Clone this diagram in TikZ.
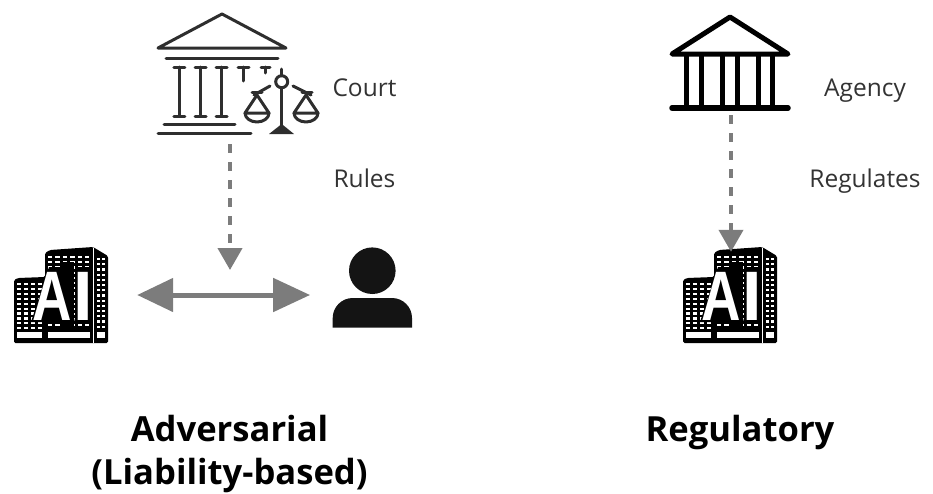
\documentclass[tikz,border=0pt]{standalone}
\usepackage{fontspec}
\setmainfont{Open Sans}
\newfontfamily\aifont{Liberation Sans}
\usetikzlibrary{arrows.meta}
\definecolor{inkdark}{HTML}{2E2E2E}
\definecolor{inkblack}{HTML}{141414}
\definecolor{arrowgrey}{HTML}{7C7C7C}
\definecolor{labelgrey}{HTML}{333333}
\tikzset{
  x=1pt,y=-1pt,
  thinicon/.style={draw=inkdark,line width=3pt,line cap=round,line join=round},
  heavyicon/.style={draw=black,line width=5pt},
  slot/.style={inner sep=0pt,minimum width=94pt,minimum height=96pt},
  lbl/.style={font=\fontsize{24.5}{26}\selectfont,text=labelgrey,inner sep=0pt,anchor=base},
  ttl/.style={font=\fontsize{34.6}{47}\selectfont\bfseries,text=black,inner sep=0pt,anchor=base},
  dasharrow/.style={draw=arrowgrey,line width=4.2pt,dash pattern=on 9pt off 9pt,-{Triangle[length=22pt,width=24pt]}},
  bothways/.style={draw=arrowgrey,line width=5pt,{Triangle[length=36pt,width=33pt]}-{Triangle[length=37pt,width=33pt]}},
  ailetter/.style={inner sep=0pt,text=white,anchor=base,font=\fontsize{70}{70}\selectfont\aifont\bfseries},
  pics/aicorp/.style={code={
    \fill[black,rounded corners=1.5pt] (14,280) -- (18,278) -- (45,277) -- (45,253) -- (50,250) -- (93,247) -- (108,256) -- (108,343) -- (14,343) -- cycle;
    \foreach \r in {0,...,13}{
      \foreach \c in {0,...,5}{
        \fill[white] ({48+\c*7.4},{256+\r*5.2}) rectangle +(4.3,2.2);
      }
      \foreach \c in {0,1}{
        \fill[white] ({96.5+\c*5.2},{258+\r*5.2}) rectangle +(3,2.2);
      }
    }
    \foreach \r in {0,...,9}{
      \foreach \c in {0,...,3}{
        \fill[white] ({17+\c*7},{283+\r*4.9}) rectangle +(4.3,2.2);
      }
    }
    \fill[white] (17,332) rectangle (42,338);
    \fill[white] (48,332) rectangle (90,338);
    \fill[white] (97,332) rectangle (105,338);
    \draw[white,line width=1pt] (93.5,248) -- (93.5,343);
    \fill[black] (63,262) rectangle (74,330);
    \fill[black] (31,322) -- (49,267) -- (61,267) -- (75,322) -- cycle;
    \fill[black] (76,267) rectangle (90,322);
    \node[ailetter,xscale=.78] at (52.5,320) {A};
    \node[ailetter] at (83,320) {I};
  }}
}
\begin{document}
\begin{tikzpicture}
\useasboundingbox (0,0) rectangle (933,493);
% court
\draw[thinicon] (158,48) -- (222,14) -- (286,48) -- cycle;
\draw[thinicon] (166,58) -- (278,58);
\foreach \cx in {179.3,200.7,221.7}{
  \draw[thinicon] ({\cx-5.5},67) -- ({\cx+5.5},67) ({\cx},67) -- ({\cx},116) ({\cx-5.5},116) -- ({\cx+5.5},116);
}
\draw[thinicon] (238,67) -- (249,67) (243,67) -- (243,81);
\draw[thinicon] (261,67) -- (270,67) (265,67) -- (265,73);
\draw[thinicon] (164,124) -- (235,124);
\draw[thinicon] (158,133) -- (251,133);
% scales
\draw[thinicon] (281.7,69) -- (281.7,75.7) (281.7,87.7) -- (281.7,128);
\draw[thinicon] (281.7,81.7) circle (6);
\fill[inkdark] (269,134) -- (281.7,124) -- (294,134) -- cycle;
\draw[thinicon] (270,86) -- (254,95) (293,86) -- (311,95);
\draw[thinicon] (252,92) -- (262,92) (302,92) -- (312,92);
\draw[thinicon] (257,95) -- (245,113) -- (269,113) -- cycle;
\draw[thinicon] (245,113) arc[start angle=180,end angle=0,x radius=12,y radius=9];
\draw[thinicon] (306,95) -- (294,113) -- (318,113) -- cycle;
\draw[thinicon] (294,113) arc[start angle=180,end angle=0,x radius=12,y radius=9];
\node[inner sep=0pt,minimum width=162pt,minimum height=122pt] (court) at (239,74) {};
\coordinate (courtfoot) at (230,144);
\coordinate (courttip) at (230,270);
% agency
\draw[heavyicon,line join=round] (672,54) -- (730,17) -- (788,54) -- cycle;
\foreach \cx in {686.7,701.7,722.7,737,758.3,772.7}{
  \draw[draw=black,line width=5pt] (\cx,54) -- (\cx,107);
}
\draw[draw=black,line width=5.5pt,line cap=round] (672,108) -- (788,108);
\node[inner sep=0pt,minimum width=120pt,minimum height=98pt] (agency) at (731,63) {};
% buildings
\pic at (0,0) {aicorp};
\pic at (669,0) {aicorp};
\node[slot] (aileft) at (61,295) {};
\node[slot] (airight) at (731,295) {};
% person
\fill[inkblack] (372.3,270.7) circle (23.3);
\fill[inkblack] (332.7,327.7) -- (332.7,318) arc[start angle=180,end angle=270,radius=20] -- (392,298) arc[start angle=270,end angle=360,radius=20] -- (412,327.7) -- cycle;
\node[inner sep=0pt,minimum width=80pt,minimum height=96pt] (person) at (372.3,295) {};
% connectors
\draw[dasharrow] (courtfoot) -- (courttip);
\draw[dasharrow,shorten <=3pt,shorten >=-5pt] (agency.south) -- (airight.north);
\draw[bothways,shorten <=29pt,shorten >=22pt] (aileft.east) -- (person.west);
% labels
\node[lbl] (lcourt) at (364.5,96) {Court};
\node[lbl] (lrules) at (364.5,187) {Rules};
\node[lbl] (lagency) at (865,96) {Agency};
\node[lbl] (lreg) at (865,187) {Regulates};
\node[ttl] (tadv) at (229.5,441) {Adversarial};
\node[ttl] (tadvb) at (229.5,484.5) {(Liability-based)};
\node[ttl] (treg) at (740,441) {Regulatory};
\end{tikzpicture}
\end{document}
